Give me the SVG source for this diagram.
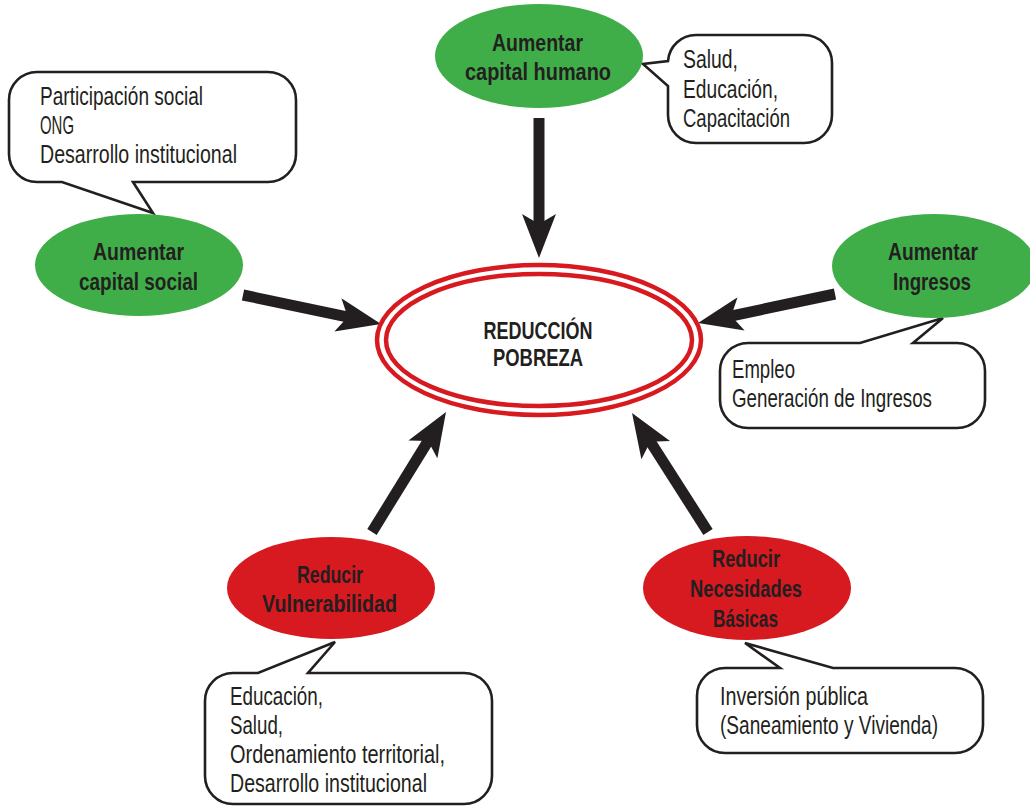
<svg xmlns="http://www.w3.org/2000/svg" width="1030" height="806" viewBox="0 0 1030 806">
<defs>
<style>
.bubble{fill:#fff;stroke:#231f20;stroke-width:2.6;stroke-linejoin:miter}
.green{fill:#3fae49}
.red{fill:#d71920}
.ring{fill:none;stroke:#d71920;stroke-width:4.5}
.lbl{font-family:"Liberation Sans Narrow","Liberation Sans",Arial,sans-serif;font-weight:bold;font-size:24.5px;fill:#231f20;text-anchor:middle}
.core{font-family:"Liberation Sans Narrow","Liberation Sans",Arial,sans-serif;font-weight:bold;font-size:24px;fill:#231f20;text-anchor:middle}
.txt{font-family:"Liberation Sans Narrow","Liberation Sans",Arial,sans-serif;font-size:25px;fill:#231f20}
.arrow{stroke:#231f20;stroke-width:11;fill:none;marker-end:url(#head)}
</style>
<marker id="head" markerUnits="userSpaceOnUse" viewBox="0 0 44 34" markerWidth="44" markerHeight="34" refX="24" refY="17" orient="auto">
<path d="M44,17 L0,0 L10,17 L0,34 Z" fill="#231f20"/>
</marker>
</defs>
<rect width="1030" height="806" fill="#fff"/>

<g id="connectors">
<line class="arrow" x1="539" y1="118" x2="539" y2="238"/>
<line class="arrow" x1="243" y1="295" x2="361.4" y2="319.9"/>
<line class="arrow" x1="835" y1="294" x2="717.6" y2="318.9"/>
<line class="arrow" x1="372" y1="532" x2="435.5" y2="429"/>
<line class="arrow" x1="708" y1="532" x2="642.8" y2="429.9"/>
</g>

<g id="reduccion-pobreza">
<ellipse class="ring" cx="539" cy="340" rx="162" ry="75"/>
<ellipse class="ring" cx="539" cy="340" rx="153" ry="66"/>
<text class="core" x="538" y="339" textLength="109" lengthAdjust="spacingAndGlyphs">REDUCCIÓN</text>
<text class="core" x="538" y="366" textLength="90" lengthAdjust="spacingAndGlyphs">POBREZA</text>
</g>

<g id="bubble-capital-social">
<path class="bubble" d="M37,72 H268 A28,28 0 0 1 296,100 V154 A28,28 0 0 1 268,182 H133 L153,213 L62,182 H37 A28,28 0 0 1 9,154 V100 A28,28 0 0 1 37,72 Z"/>
<text class="txt" x="40" y="105" textLength="163" lengthAdjust="spacingAndGlyphs">Participación social</text>
<text class="txt" x="40" y="134" textLength="34" lengthAdjust="spacingAndGlyphs">ONG</text>
<text class="txt" x="40" y="163" textLength="197" lengthAdjust="spacingAndGlyphs">Desarrollo institucional</text>
</g>

<g id="capital-social">
<ellipse class="green" cx="139" cy="265" rx="104" ry="51"/>
<text class="lbl" x="138.5" y="260" textLength="91" lengthAdjust="spacingAndGlyphs">Aumentar</text>
<text class="lbl" x="138.5" y="290" textLength="119" lengthAdjust="spacingAndGlyphs">capital social</text>
</g>

<g id="bubble-capital-humano">
<path class="bubble" d="M696,35 H804 A28,28 0 0 1 832,63 V115 A28,28 0 0 1 804,143 H696 A28,28 0 0 1 668,115 V86 L643,64 L668,61 A28,28 0 0 1 696,35 Z"/>
<text class="txt" x="683" y="68" textLength="55" lengthAdjust="spacingAndGlyphs">Salud,</text>
<text class="txt" x="683" y="98" textLength="95" lengthAdjust="spacingAndGlyphs">Educación,</text>
<text class="txt" x="683" y="127" textLength="107" lengthAdjust="spacingAndGlyphs">Capacitación</text>
</g>

<g id="capital-humano">
<ellipse class="green" cx="539" cy="56" rx="104" ry="52"/>
<text class="lbl" x="537.5" y="51" textLength="91" lengthAdjust="spacingAndGlyphs">Aumentar</text>
<text class="lbl" x="538" y="80" textLength="146" lengthAdjust="spacingAndGlyphs">capital humano</text>
</g>

<g id="bubble-ingresos">
<path class="bubble" d="M748,343 H860 L943,318 L913,343 H957 A28,28 0 0 1 985,371 V400 A28,28 0 0 1 957,428 H748 A28,28 0 0 1 720,400 V371 A28,28 0 0 1 748,343 Z"/>
<text class="txt" x="732" y="378" textLength="63" lengthAdjust="spacingAndGlyphs">Empleo</text>
<text class="txt" x="732" y="407" textLength="200" lengthAdjust="spacingAndGlyphs">Generación de Ingresos</text>
</g>

<g id="ingresos">
<ellipse class="green" cx="934" cy="266" rx="102" ry="52"/>
<text class="lbl" x="933" y="260" textLength="90" lengthAdjust="spacingAndGlyphs">Aumentar</text>
<text class="lbl" x="932" y="290" textLength="78" lengthAdjust="spacingAndGlyphs">Ingresos</text>
</g>

<g id="bubble-vulnerabilidad">
<path class="bubble" d="M233,673 H258 L335,642 L308,673 H464 A28,28 0 0 1 492,701 V776 A28,28 0 0 1 464,804 H233 A28,28 0 0 1 205,776 V701 A28,28 0 0 1 233,673 Z"/>
<text class="txt" x="230" y="705" textLength="93" lengthAdjust="spacingAndGlyphs">Educación,</text>
<text class="txt" x="230" y="734" textLength="53" lengthAdjust="spacingAndGlyphs">Salud,</text>
<text class="txt" x="230" y="763" textLength="215" lengthAdjust="spacingAndGlyphs">Ordenamiento territorial,</text>
<text class="txt" x="230" y="792" textLength="197" lengthAdjust="spacingAndGlyphs">Desarrollo institucional</text>
</g>

<g id="vulnerabilidad">
<ellipse class="red" cx="331" cy="588" rx="104" ry="51"/>
<text class="lbl" x="330" y="583" textLength="66" lengthAdjust="spacingAndGlyphs">Reducir</text>
<text class="lbl" x="329.5" y="612" textLength="135" lengthAdjust="spacingAndGlyphs">Vulnerabilidad</text>
</g>

<g id="bubble-necesidades">
<path class="bubble" d="M725,668 H780 L745,643 L833,668 H955 A28,28 0 0 1 983,696 V725 A28,28 0 0 1 955,753 H725 A28,28 0 0 1 697,725 V696 A28,28 0 0 1 725,668 Z"/>
<text class="txt" x="720" y="705" textLength="148" lengthAdjust="spacingAndGlyphs">Inversión pública</text>
<text class="txt" x="720" y="734" textLength="218" lengthAdjust="spacingAndGlyphs">(Saneamiento y Vivienda)</text>
</g>

<g id="necesidades-basicas">
<ellipse class="red" cx="747" cy="588" rx="104" ry="52"/>
<text class="lbl" x="746" y="567" textLength="68" lengthAdjust="spacingAndGlyphs">Reducir</text>
<text class="lbl" x="746" y="597" textLength="112" lengthAdjust="spacingAndGlyphs">Necesidades</text>
<text class="lbl" x="745.5" y="627" textLength="65" lengthAdjust="spacingAndGlyphs">Básicas</text>
</g>
</svg>
